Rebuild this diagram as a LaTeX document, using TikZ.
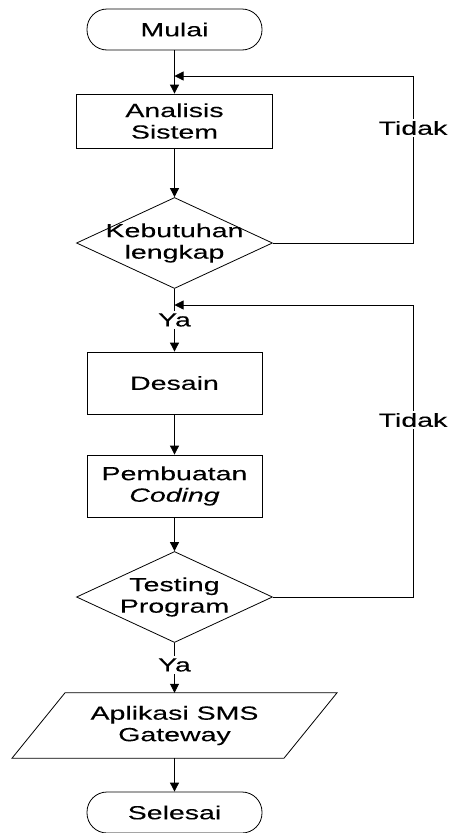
\documentclass[tikz,border=0pt]{standalone}
\usepackage{fontspec}
\setmainfont[FakeStretch=1.5,FakeBold=0.15]{Liberation Sans}
\usetikzlibrary{shapes.geometric,arrows.meta}
\begin{document}
\begin{tikzpicture}[x=1pt,y=-1pt,
  every node/.style={font=\fontsize{19}{21.5}\selectfont, align=center},
  line/.style={line width=0.8pt, draw=black},
  arr/.style={line, -{Triangle[length=9pt,width=9pt]}},
  box/.style={draw, line, rectangle, inner sep=0pt},
  term/.style={draw, line, rectangle, rounded corners=20pt, minimum width=175pt, minimum height=41pt, inner sep=0pt},
  dia/.style={draw, line, diamond, minimum width=196pt, minimum height=91pt, inner sep=0pt, aspect=2.15},
  lbl/.style={fill=white, inner sep=2.5pt}
]
\useasboundingbox (0,0) rectangle (452,833);

\node[term] (mulai) at (174.5,29.5) {Mulai};
\node[box, minimum width=196pt, minimum height=54pt] (analisis) at (174.5,121) {Analisis\\Sistem};
\node[dia] (keb) at (174.5,243) {};
\node (kebt) at (keb) {Kebutuhan\\lengkap};
\node[box, minimum width=175pt, minimum height=62pt] (desain) at (174.5,383) {Desain};
\node[box, minimum width=175pt, minimum height=62pt] (pemb) at (174.5,486) {Pembuatan\\\textit{Coding}};
\node[dia] (test) at (174.5,597) {};
\node (testt) at (test) {Testing\\Program};
\node[minimum width=219pt, minimum height=65pt, inner sep=0pt] (apl) at (174.5,725.5) {Aplikasi SMS\\Gateway};
\draw[line] ([xshift=-109.5pt]apl.north) -- ([xshift=162.5pt]apl.north) -- ([xshift=109.5pt]apl.south) -- ([xshift=-162.5pt]apl.south) -- cycle;
\node[term] (selesai) at (174.5,812.5) {Selesai};

\coordinate (j1) at (174.5,76);
\coordinate (r1) at (413,76);
\coordinate (j2) at (174.5,305);
\coordinate (r2) at (413,305);

\draw[arr] (mulai) -- (analisis);
\draw[arr] (analisis) -- (keb);
\draw[line] (keb.east) -| (r1);
\draw[arr] (r1) -- (j1);
\draw[arr] (keb) -- (desain);
\draw[arr] (desain) -- (pemb);
\draw[arr] (pemb) -- (test);
\draw[line] (test.east) -| (r2);
\draw[arr] (r2) -- (j2);
\draw[arr] (test) -- (apl);
\draw[arr] (apl) -- (selesai);

\node[lbl] (t1) at (413,128) {Tidak};
\node[lbl] (t2) at (413,420) {Tidak};
\node[lbl] (y1) at (174.5,320) {Ya};
\node[lbl] (y2) at (174.5,665) {Ya};
\end{tikzpicture}
\end{document}
